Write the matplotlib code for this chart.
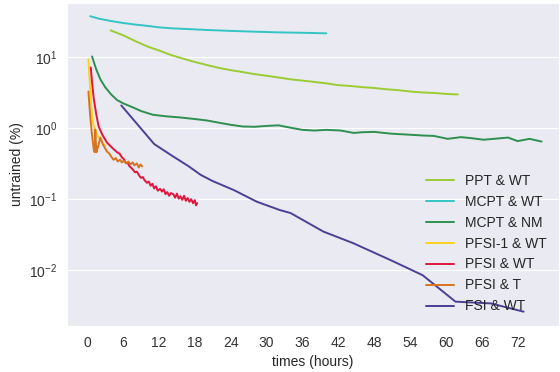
import matplotlib
matplotlib.use("Agg")
from matplotlib import pyplot as plt
import seaborn as sns

# hours / untrained (%), one pair of lists per run
ppt_wt_t = [3.9, 6, 8, 10, 12, 14, 16, 18, 20, 22, 24, 26, 28, 30, 32, 34, 36, 38,
            40, 42, 44, 46, 48, 50, 52, 54, 56, 58, 60, 62]
ppt_wt_v = [24, 20.5, 17, 14.3, 12.5, 10.8, 9.6, 8.6, 7.8, 7.1, 6.6, 6.2, 5.8, 5.5,
            5.2, 4.9, 4.7, 4.5, 4.3, 4.05, 3.95, 3.8, 3.7, 3.55, 3.45, 3.3, 3.2, 3.15,
            3.05, 3.0]

mcpt_wt_t = [0.5, 2, 4, 6, 8, 10, 12, 14, 17, 20, 24, 28, 32, 36, 40]
mcpt_wt_v = [38, 35, 32.5, 30.5, 29, 27.8, 26.5, 25.7, 25, 24.3, 23.6, 23, 22.5, 22.2, 21.8]

mcpt_nm_t = [0.8, 1.5, 2.2, 3, 4, 5, 6, 7.7, 9, 11, 13, 15.6, 18, 20, 22, 24, 26, 28,
             30, 32, 34, 36, 38, 40, 42.4, 44.6, 46, 48, 50.8, 53, 56.3, 58, 60.3,
             62.5, 64, 66.3, 68, 70.4, 72, 74, 76]
mcpt_nm_v = [10.3, 6.8, 4.9, 3.8, 3.0, 2.5, 2.25, 1.96, 1.75, 1.55, 1.48, 1.42, 1.35,
             1.29, 1.2, 1.12, 1.06, 1.05, 1.08, 1.1, 1.02, 0.95, 0.93, 0.95, 0.93, 0.86,
             0.88, 0.89, 0.84, 0.82, 0.79, 0.78, 0.71, 0.75, 0.73, 0.69, 0.71, 0.74,
             0.66, 0.71, 0.65]

pfsi1_wt_t = [0.2, 0.4, 0.6, 0.8, 1.0, 1.3, 1.7, 2.2, 2.6, 3.0]
pfsi1_wt_v = [9.4, 5.0, 2.6, 1.5, 1.15, 0.96, 0.8, 0.69, 0.62, 0.56]

pfsi_wt_t = [0.6, 0.8, 1.1, 1.5, 1.9, 2.5, 3.3, 4.0, 4.5, 5.0, 5.4, 5.8, 6.1, 6.4, 6.8,
             7.1, 7.5, 8.0, 8.3, 8.7, 9.0, 9.3, 9.6, 10.0, 10.3, 10.6, 10.9, 11.2,
             11.5, 11.8, 12.2, 12.5, 12.8, 13.1, 13.4, 13.7, 14.0, 14.4, 14.7, 15.0,
             15.3, 15.6, 15.9, 16.2, 16.5, 16.8, 17.1, 17.4, 17.7, 18.0, 18.2, 18.4]
pfsi_wt_v = [7.2, 4.5, 2.6, 1.6, 1.07, 0.82, 0.63, 0.55, 0.5, 0.46, 0.44, 0.39, 0.37,
             0.33, 0.32, 0.29, 0.27, 0.24, 0.245, 0.215, 0.2, 0.205, 0.185, 0.17, 0.178,
             0.155, 0.165, 0.142, 0.152, 0.132, 0.14, 0.128, 0.138, 0.118, 0.126, 0.112,
             0.122, 0.118, 0.105, 0.12, 0.102, 0.11, 0.098, 0.112, 0.095, 0.104, 0.092,
             0.1, 0.088, 0.097, 0.082, 0.088]

pfsi_t_t = [0.2, 0.35, 0.5, 0.8, 1.1, 1.25, 1.35, 1.45, 1.55, 1.8, 2.2, 2.6, 3.0, 3.3,
            3.7, 4.0, 4.4, 4.8, 5.1, 5.5, 5.8, 6.1, 6.5, 6.9, 7.2, 7.6, 7.9, 8.3, 8.6,
            8.9, 9.2]
pfsi_t_v = [3.3, 2.2, 1.5, 0.8, 0.5, 0.46, 0.96, 0.6, 0.46, 0.55, 0.74, 0.6, 0.52,
            0.47, 0.44, 0.4, 0.36, 0.38, 0.34, 0.36, 0.33, 0.35, 0.32, 0.34, 0.31,
            0.33, 0.3, 0.32, 0.28, 0.31, 0.29]

fsi_wt_t = [5.7, 11.2, 14, 17, 19, 21, 24.5, 28.4, 32.3, 34, 39.5, 44.5, 50.8, 56.1,
            61.6, 67.5, 73]
fsi_wt_v = [2.1, 0.6, 0.42, 0.29, 0.22, 0.18, 0.135, 0.092, 0.07, 0.064, 0.035, 0.024,
            0.0138, 0.0085, 0.0036, 0.0034, 0.0026]

runs = [
    ("PPT & WT", ppt_wt_t, ppt_wt_v, "#9acd32"),
    ("MCPT & WT", mcpt_wt_t, mcpt_wt_v, "#33c4c4"),
    ("MCPT & NM", mcpt_nm_t, mcpt_nm_v, "#2e9050"),
    ("PFSI-1 & WT", pfsi1_wt_t, pfsi1_wt_v, "#ffd21a"),
    ("PFSI & WT", pfsi_wt_t, pfsi_wt_v, "#e0163c"),
    ("PFSI & T", pfsi_t_t, pfsi_t_v, "#d8731e"),
    ("FSI & WT", fsi_wt_t, fsi_wt_v, "#4a4095"),
]

sns.set_style("darkgrid")
plt.rcParams["font.family"] = ["Liberation Sans", "DejaVu Sans"]

fig, ax = plt.subplots(figsize=(5.6, 3.72), dpi=100)
fig.subplots_adjust(left=0.12, right=0.998, top=0.992, bottom=0.124)

for name, t, v, col in runs:
    ax.plot(t, v, color=col, lw=1.4, label=name)

ax.set_yscale("log")
ax.set_ylim(0.00164, 58.4)
ax.set_xlim(-3.35, 78.9)
ax.set_xticks(range(0, 73, 6))
ax.minorticks_off()
ax.grid(axis="x", visible=False)
ax.tick_params(labelsize=10, colors="#333333")
ax.set_xlabel("times (hours)", fontsize=10, color="#262626")
ax.set_ylabel("untrained (%)", fontsize=10, color="#262626")
ax.legend(loc="lower right", frameon=False, fontsize=10)

fig.savefig("out.png", dpi=100)
